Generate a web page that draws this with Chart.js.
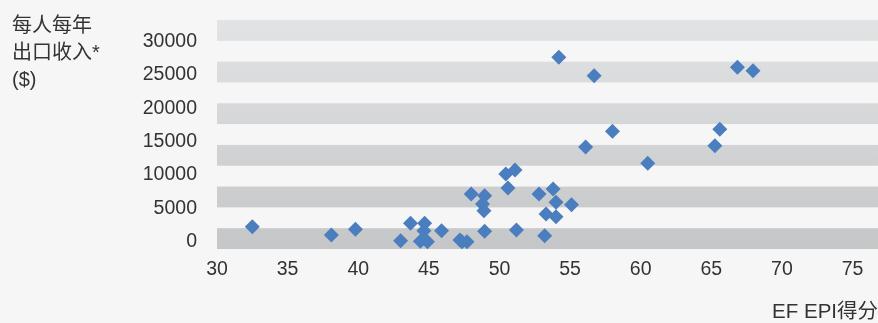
<!DOCTYPE html>
<html>
<head>
<meta charset="utf-8">
<script src="https://cdn.jsdelivr.net/npm/chart.js@4/dist/chart.umd.min.js"></script>
<style>
  html, body { margin: 0; padding: 0; background: #f6f6f6; }
  #wrap { width: 878px; height: 323px; }
</style>
</head>
<body>
<div id="wrap"><canvas id="c" width="878" height="323"></canvas></div>
<script>
// EF EPI score vs. export income per person
const epiScore = [32.5, 38.1, 39.8, 43.0, 43.7, 44.7, 44.65, 44.4, 44.9, 45.9,
  47.2, 47.7, 47.35, 48.0, 48.95, 48.8, 48.9, 48.95, 50.45, 51.1,
  50.6, 51.2, 52.8, 53.8, 54.0, 55.1, 53.3, 54.0, 53.2, 54.2,
  56.7, 58.0, 56.1, 60.5, 65.6, 65.25, 66.85, 67.95];
const exportIncome = [2250, 1000, 1850, 150, 2750, 2750, 1650, 75, 0, 1650,
  250, 0, 0, 7150, 6900, 5650, 4650, 1550, 10150, 10750,
  8050, 1750, 7150, 7900, 5900, 5550, 4150, 3750, 900, 27650,
  24900, 16550, 14200, 11750, 16850, 14400, 26150, 25650];
const xTicks = [30, 35, 40, 45, 50, 55, 60, 65, 70, 75];
const yTicks = [0, 5000, 10000, 15000, 20000, 25000, 30000];
const yTitleLines = ['每人每年', '出口收入*', '($)'];
const xTitle = 'EF EPI得分';

const FONT = '"Liberation Sans", Arial, "Noto Sans CJK SC", sans-serif';
const TEXT = '#333333';

const points = epiScore.map((x, i) => ({ x, y: exportIncome[i] }));

// page background, alternating shaded bands and the stacked axis title
const backdrop = {
  id: 'backdrop',
  beforeDraw(chart) {
    const { ctx, chartArea: a, width, height } = chart;
    ctx.save();
    ctx.fillStyle = '#f6f6f6';
    ctx.fillRect(0, 0, width, height);
    const rows = 11;
    const h = (a.bottom - a.top) / rows;
    const g = ctx.createLinearGradient(0, a.top, 0, a.bottom);
    g.addColorStop(0, '#e2e3e5');
    g.addColorStop(1, '#c5c6c8');
    ctx.fillStyle = g;
    for (let r = 0; r < rows; r += 2) {
      ctx.fillRect(a.left, a.top + r * h, a.right - a.left, h);
    }
    ctx.restore();
  },
  afterDraw(chart) {
    const { ctx } = chart;
    ctx.save();
    ctx.fillStyle = TEXT;
    ctx.font = '20px ' + FONT;
    ctx.textAlign = 'left';
    ctx.textBaseline = 'middle';
    yTitleLines.forEach((t, i) => ctx.fillText(t, 12, 26 + i * 27));
    ctx.restore();
  }
};

new Chart(document.getElementById('c'), {
  type: 'scatter',
  data: {
    datasets: [{
      data: points,
      pointStyle: 'rectRot',
      pointRadius: 7.5,
      pointHoverRadius: 7.5,
      backgroundColor: '#4a7ebf',
      borderWidth: 0,
      clip: false
    }]
  },
  options: {
    responsive: false,
    animation: false,
    events: [],
    layout: { autoPadding: false, padding: { top: 20, right: 0, left: 0, bottom: 0 } },
    plugins: { legend: { display: false }, tooltip: { enabled: false } },
    scales: {
      x: {
        type: 'linear',
        min: 30,
        max: 76.8,
        afterBuildTicks(s) { s.ticks = xTicks.map(v => ({ value: v })); },
        afterFit(s) { s.height = 74; s.paddingLeft = 0; s.paddingRight = 0; },
        grid: { display: false, drawTicks: false },
        border: { display: false },
        ticks: {
          color: TEXT, font: { family: FONT, size: 19.5 }, padding: 9,
          maxRotation: 0, autoSkip: false, callback: v => String(v)
        },
        title: {
          display: true,
          text: xTitle,
          align: 'end',
          color: TEXT,
          font: { family: FONT, size: 20.5, lineHeight: 1 },
          padding: { top: 0, bottom: 0 }
        }
      },
      y: {
        type: 'linear',
        min: -1095,
        max: 33255,
        afterBuildTicks(s) { s.ticks = yTicks.map(v => ({ value: v })); },
        afterFit(s) { s.width = 217; s.paddingTop = 0; s.paddingBottom = 0; },
        grid: { display: false, drawTicks: false },
        border: { display: false },
        ticks: {
          color: TEXT, font: { family: FONT, size: 19.5 }, padding: 20,
          autoSkip: false, callback: v => String(v)
        }
      }
    }
  },
  plugins: [backdrop]
});
</script>
</body>
</html>
